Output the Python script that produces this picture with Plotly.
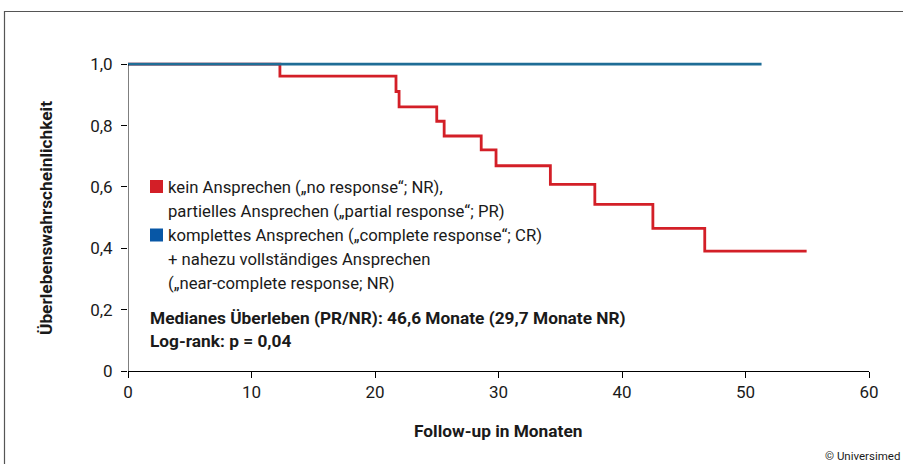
import plotly.graph_objects as go

# Data
cr_time = [0, 51.3]
cr_surv = [1.0, 1.0]

pr_time = [0, 12.3, 21.7, 21.95, 25.0, 25.6, 28.6, 29.8, 34.2, 37.8, 42.5, 46.7, 54.95]
pr_surv = [1.0, 0.961, 0.911, 0.861, 0.814, 0.766, 0.721, 0.669, 0.608, 0.543, 0.465, 0.391, 0.391]

x_ticks = [0, 10, 20, 30, 40, 50, 60]
y_ticks = [0, 0.2, 0.4, 0.6, 0.8, 1.0]
y_ticktext = ["0", "0,2", "0,4", "0,6", "0,8", "1,0"]

legend_red = ["kein Ansprechen („no response“; NR),", "partielles Ansprechen („partial response“; PR)"]
legend_blue = ["komplettes Ansprechen („complete response“; CR)", "+ nahezu vollständiges Ansprechen",
               "(„near-complete response; NR)"]
stats_text = ["Medianes Überleben (PR/NR): 46,6 Monate (29,7 Monate NR)", "Log-rank: p = 0,04"]

RED = "#d31f27"
BLUE_LINE = "#1f6d96"
BLUE_SQ = "#0757a6"
FONT = "Roboto"
TXT = "#1a1a1a"

fig = go.Figure()
fig.add_trace(go.Scatter(x=pr_time, y=pr_surv, mode="lines", line=dict(color=RED, width=2.8, shape="hv"),
                         showlegend=False, hoverinfo="skip"))
fig.add_trace(go.Scatter(x=cr_time, y=cr_surv, mode="lines", line=dict(color=BLUE_LINE, width=2.8, shape="hv"),
                         showlegend=False, hoverinfo="skip"))

W, H = 903, 464
L, R, T, B = 128, 34, 55, 93

fig.update_layout(
    width=W, height=H,
    margin=dict(l=L, r=R, t=T, b=B),
    paper_bgcolor="white", plot_bgcolor="white",
    font=dict(family=FONT, size=15, color=TXT),
    showlegend=False,
    xaxis=dict(range=[0, 60], tickvals=x_ticks, ticks="outside", ticklen=6, tickcolor="black",
               showline=True, linecolor="black", linewidth=1, showgrid=False, zeroline=False,
               tickfont=dict(family=FONT, size=17, color=TXT)),
    yaxis=dict(range=[0, 1.03], tickvals=y_ticks, ticktext=y_ticktext, ticks="outside", ticklen=6,
               tickcolor="black", showline=False, showgrid=False, zeroline=False, ticklabelstandoff=5,
               tickfont=dict(family=FONT, size=17, color=TXT)),
)

# y axis line only from 0 to 1
fig.add_shape(type="line", xref="x", yref="y", x0=0, x1=0, y0=0, y1=1.0,
              line=dict(color="black", width=1), layer="above")

def px_x(p):
    return (p - L) / (W - L - R)

def px_y(p):
    return 1 - (p - T) / (H - T - B)

# Frame around the figure (extends beyond the right/bottom edges)
fig.add_shape(type="rect", xref="paper", yref="paper", x0=px_x(4.5), x1=px_x(W + 20),
              y0=px_y(H + 20), y1=px_y(11.5), line=dict(color="#555555", width=1.2), fillcolor="rgba(0,0,0,0)")

# Legend squares
fig.add_shape(type="rect", xref="paper", yref="paper", x0=px_x(150), x1=px_x(163), y0=px_y(193), y1=px_y(180),
              fillcolor=RED, line=dict(width=0))
fig.add_shape(type="rect", xref="paper", yref="paper", x0=px_x(150), x1=px_x(163), y0=px_y(241.5), y1=px_y(228.5),
              fillcolor=BLUE_SQ, line=dict(width=0))

lines = legend_red + legend_blue
for i, t in enumerate(lines):
    fig.add_annotation(xref="paper", yref="paper", x=px_x(166), y=px_y(187 + 24 * i), text=t,
                       showarrow=False, xanchor="left", yanchor="middle",
                       font=dict(family=FONT, size=16.7, color=TXT))

for i, t in enumerate(stats_text):
    fig.add_annotation(xref="paper", yref="paper", x=px_x(148), y=px_y(318 + 22.5 * i), text="<b>" + t + "</b>",
                       showarrow=False, xanchor="left", yanchor="middle",
                       font=dict(family=FONT, size=17.3, color=TXT))

# Axis titles
fig.add_annotation(xref="paper", yref="paper", x=px_x(498), y=px_y(431), text="<b>Follow-up in Monaten</b>",
                   showarrow=False, xanchor="center", yanchor="middle",
                   font=dict(family=FONT, size=17.3, color=TXT))
fig.add_annotation(xref="paper", yref="paper", x=px_x(46), y=px_y(218), text="<b>Überlebenswahrscheinlichkeit</b>",
                   showarrow=False, xanchor="center", yanchor="middle", textangle=-90,
                   font=dict(family=FONT, size=17.3, color=TXT))

# Copyright (kept fully inside the page)
fig.add_annotation(xref="paper", yref="paper", x=px_x(902), y=px_y(456), text="© Universimed",
                   showarrow=False, xanchor="right", yanchor="middle",
                   font=dict(family=FONT, size=11.5, color=TXT))

fig.write_html("out.html")
